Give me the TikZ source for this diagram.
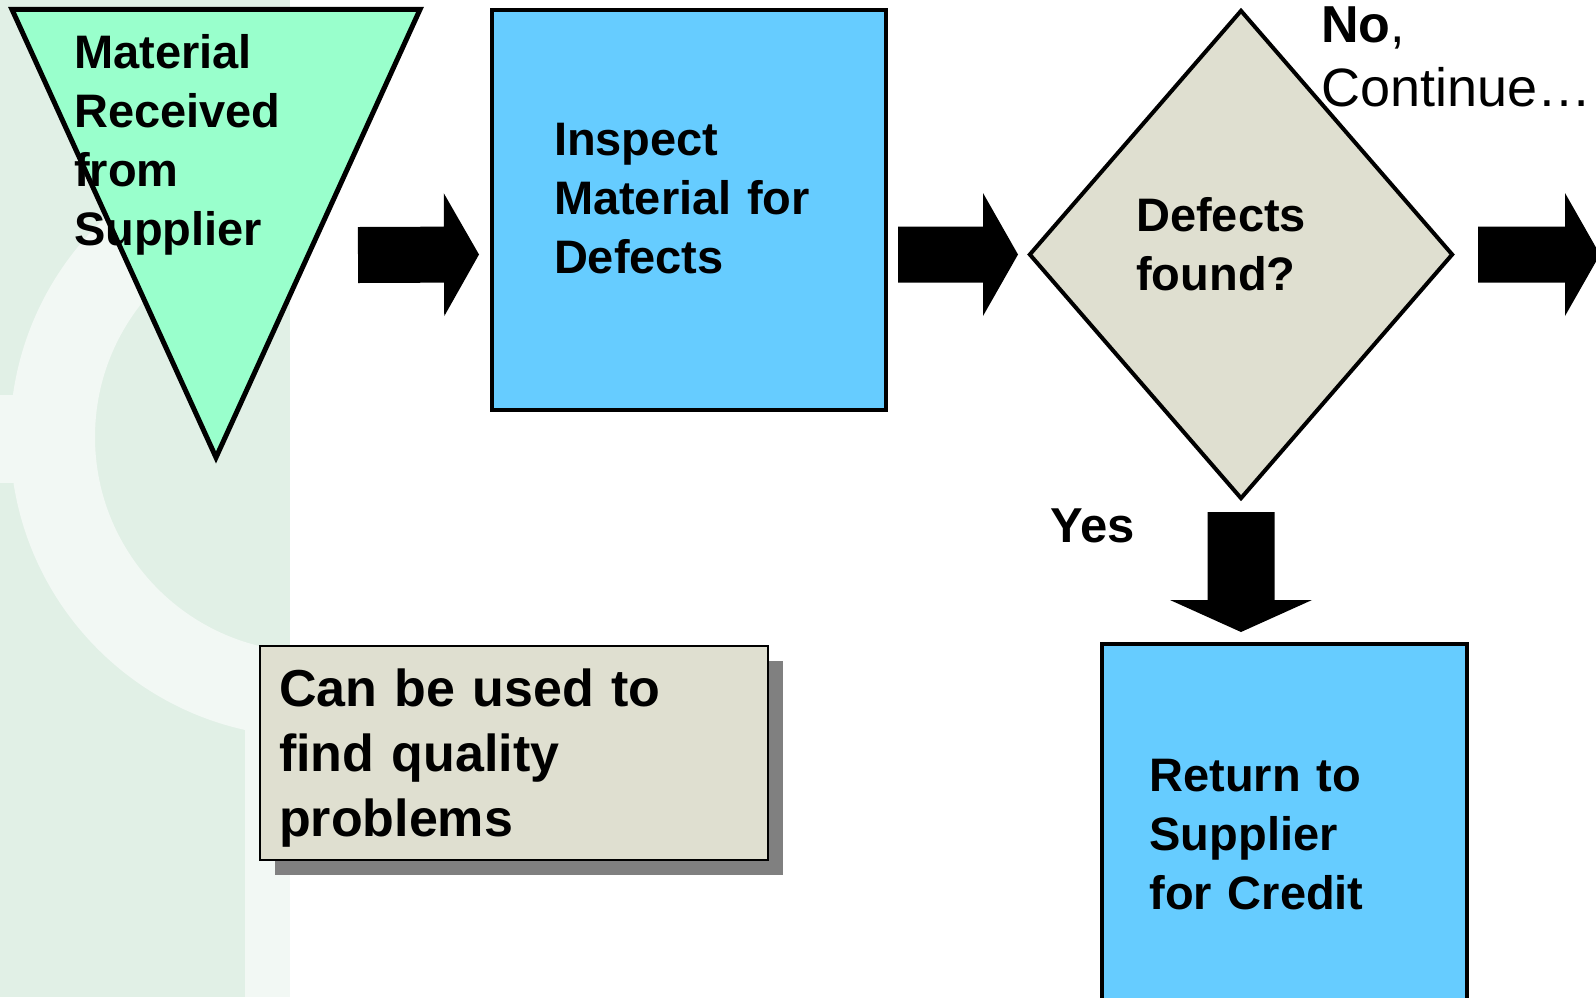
\documentclass[tikz,border=0pt]{standalone}
\usepackage{fontspec}
\setmainfont{Liberation Sans}
\usetikzlibrary{positioning, calc, shapes.geometric, shadows}
\definecolor{clPanel} {RGB}{225,240,230}
\definecolor{clRing}  {RGB}{242,248,244}
\definecolor{clMint}  {RGB}{153,255,204}
\definecolor{clSky}   {RGB}{102,204,255}
\definecolor{clStone} {RGB}{223,223,208}
\definecolor{clShadow}{RGB}{128,128,128}
\tikzset{
  %% text inside the flow shapes
  txt/.style={
    font=\fontsize{47pt}{59pt}\selectfont\bfseries,
    align=left, inner sep=0pt
  },
  %% start triangle
  tri/.style={
    isosceles triangle, isosceles triangle stretches,
    shape border rotate=270, minimum width=408pt, minimum height=448pt,
    inner sep=0pt, draw, line width=5pt, fill=clMint
  },
  %% process box
  proc/.style={
    txt, rectangle, draw, line width=4pt, fill=clSky,
    text width=270pt
  },
  %% decision
  decide/.style={
    diamond, minimum width=424pt, minimum height=489pt,
    inner sep=0pt, draw, line width=4pt, fill=clStone
  },
  %% side remark with shadow
  note/.style={
    rectangle, draw, line width=2pt, fill=clStone,
    minimum width=508pt, minimum height=214pt,
    font=\fontsize{52pt}{65pt}\selectfont\bfseries,
    align=left, text width=470pt, text depth=130pt, inner sep=0pt,
    drop shadow={shadow xshift=15pt, shadow yshift=-15pt,
      fill=clShadow, opacity=1}
  },
  %% branch labels
  lbl/.style={
    font=\fontsize{52pt}{64pt}\selectfont\bfseries,
    align=left, inner sep=0pt
  }
}
%% filled block arrow: from, to, shaft half width, head half width, head length
\newcommand{\blockarrow}[5]{%
  \coordinate (bahead) at ($(#2)!#5!(#1)$);
  \fill[black] ($(#1)!#3!90:(#2)$) -- ($(bahead)!#3!90:(#2)$)
    -- ($(bahead)!#4!90:(#2)$) -- (#2) -- ($(bahead)!#4!-90:(#2)$)
    -- ($(bahead)!#3!-90:(#2)$) -- ($(#1)!#3!-90:(#2)$) -- cycle;
}

\begin{document}
\begin{tikzpicture}[x=1pt, y=-1pt]
\useasboundingbox (0,0) rectangle (1596,997);

%% ---------------------------------------------------------------
%%  background panel with the pale ring
%% ---------------------------------------------------------------
\fill[clPanel] (0,0) rectangle (290,997);
\begin{scope}
  \clip (0,0) rectangle (290,997);
  \fill[clRing, even odd rule] (310,437) circle[radius=300pt]
    (310,437) circle[radius=215pt];
\end{scope}
\fill[clRing] (0,395) rectangle (15,483);
\fill[clRing] (245,725) rectangle (290,997);

%% ---------------------------------------------------------------
%%  flow shapes
%% ---------------------------------------------------------------
\node[tri, anchor=apex] (received) at (216,464) {};
\node[txt, anchor=north west] (receivedTxt) at (74,34)
  {Material\\Received\\from\\Supplier};

\node[proc, minimum width=394pt, minimum height=400pt, text depth=142pt]
  (inspect) at (689,210) {Inspect\\Material for\\Defects};

\node[decide] (defects) at (1241,254.5) {};
\node[txt, anchor=north west] (defectsTxt) at (1136,197)
  {Defects\\found?};

\node[proc, minimum width=365pt, minimum height=382pt]
  (credit) at (1284.5,835) {Return to\\Supplier\\for Credit};

\node[note] (remark) at (514,753)
  {Can be used to\\find quality\\problems};

%% ---------------------------------------------------------------
%%  branch labels
%% ---------------------------------------------------------------
\node[lbl, font=\fontsize{49pt}{60pt}\selectfont\bfseries,
  anchor=north west] (yes) at (1050,509) {Yes};
\node[lbl, anchor=north west] (no) at (1321,7)
  {No\textmd{,}\\\fontsize{54pt}{64pt}\selectfont\mdseries Continue…};

%% ---------------------------------------------------------------
%%  block arrows
%% ---------------------------------------------------------------
\coordinate (a1s) at (358,255);
\coordinate (a1e) at ($(inspect.west |- defects.west)+(-11,0)$);
\coordinate (a2s) at ($(inspect.east |- defects.west)+(10,0)$);
\coordinate (a2e) at ($(defects.west)+(-9,0)$);
\coordinate (a3s) at ($(defects.east)+(23,0)$);
\coordinate (a3e) at ($(defects.east)+(145,0)$);
\coordinate (a4s) at ($(defects.south)+(0,11)$);
\coordinate (a4e) at ($(defects.south |- credit.north)+(0,-10)$);

\blockarrow{a1s}{a1e}{28pt}{61.5pt}{35pt}
\blockarrow{a2s}{a2e}{28pt}{61.5pt}{35pt}
\blockarrow{a3s}{a3e}{28pt}{61.5pt}{35pt}
\blockarrow{a4s}{a4e}{33.5pt}{71pt}{32pt}

\end{tikzpicture}
\end{document}
